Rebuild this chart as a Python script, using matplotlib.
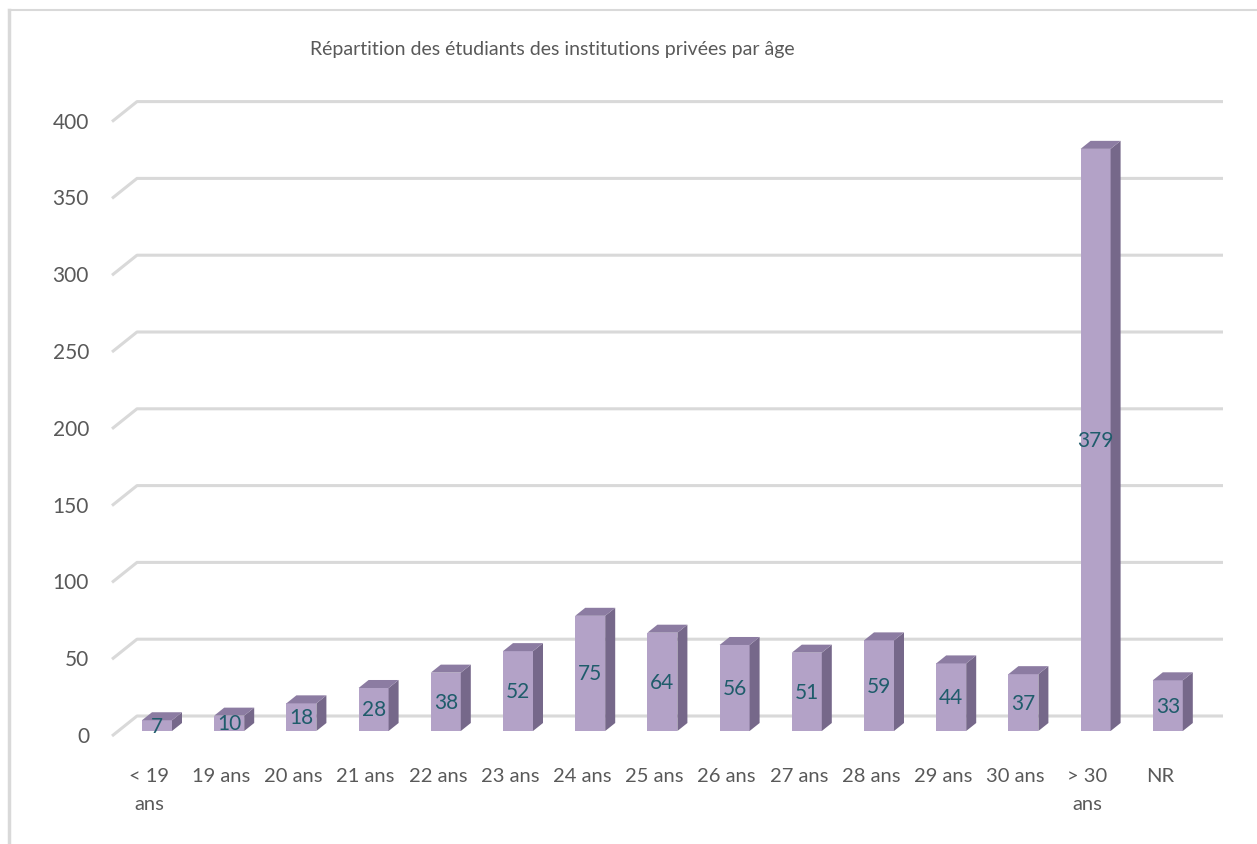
import matplotlib.pyplot as plt
from matplotlib.patches import Polygon, Rectangle
from matplotlib.lines import Line2D

CATEGORIES = ["< 19\nans", "19 ans", "20 ans", "21 ans", "22 ans", "23 ans", "24 ans",
              "25 ans", "26 ans", "27 ans", "28 ans", "29 ans", "30 ans", "> 30\nans", "NR"]
VALUES = [7, 10, 18, 28, 38, 52, 75, 64, 56, 51, 59, 44, 37, 379, 33]
Y_TICKS = [0, 50, 100, 150, 200, 250, 300, 350, 400]
TITLE = "Répartition des étudiants des institutions privées par âge"

FRONT = "#b3a2c7"
SIDE = "#76688a"
TOP = "#8c7ca2"
GRID = "#d9d9d9"
TEXT = "#595959"
LABEL = "#1f5c6b"

# pixel geometry of the 3d look (category step and value scale)
PX_STEP = 72.2
PX_UNIT = 1.536
X0_PX = 157
Y0_PX = 732
W, H = 1257, 845

plt.rcParams["font.family"] = ["Lato", "DejaVu Sans"]

fig = plt.figure(figsize=(W / 100, H / 100), dpi=100)
ax = fig.add_axes([0, 0, 1, 1])
ax.set_xlim(-X0_PX / PX_STEP, (W - X0_PX) / PX_STEP)
ax.set_ylim((Y0_PX - H) / PX_UNIT, Y0_PX / PX_UNIT)
ax.axis("off")

bar_w = 30 / PX_STEP
dx = 10 / PX_STEP
dy = 8 / PX_UNIT
# floor depth: front edge -> back wall
fdx_front, fdy_front = -45 / PX_STEP, -5 / PX_UNIT
fdx_back, fdy_back = -20 / PX_STEP, 15 / PX_UNIT
right_end = (1223 - X0_PX) / PX_STEP

# gridlines on the back wall with slanted floor/side edge
for v in Y_TICKS:
    ax.add_line(Line2D([fdx_front, fdx_back, right_end],
                       [v + fdy_front, v + fdy_back, v + fdy_back],
                       color=GRID, lw=2.2, solid_capstyle="butt", zorder=1))
    ax.text(-68 / PX_STEP, v + fdy_front, str(v), ha="right", va="center",
            fontsize=15, color=TEXT)

label_shift = -8 / PX_STEP
for i, v in enumerate(VALUES):
    x0 = i - bar_w / 2
    x1 = i + bar_w / 2
    ax.add_patch(Rectangle((x0, 0), bar_w, v, facecolor=FRONT, edgecolor="none", zorder=3))
    ax.add_patch(Polygon([(x1, 0), (x1 + dx, dy), (x1 + dx, v + dy), (x1, v)],
                         closed=True, facecolor=SIDE, edgecolor="none", zorder=3))
    ax.add_patch(Polygon([(x0, v), (x1, v), (x1 + dx, v + dy), (x0 + dx, v + dy)],
                         closed=True, facecolor=TOP, edgecolor="none", zorder=3))
    ax.text(i, v / 2, str(v), ha="center", va="center", fontsize=15, color=LABEL, zorder=4)
    ax.text(i + label_shift, (Y0_PX - 768) / PX_UNIT, CATEGORIES[i], ha="center", va="top",
            fontsize=14.5, color=TEXT, linespacing=1.8)

fig.text(552 / W, 1 - 50 / H, TITLE, ha="center", va="center", fontsize=14, color=TEXT)

# outer chart border (only top and left edges visible)
fig.add_artist(Line2D([9 / W, 9 / W], [0, 1 - 11 / H], color=GRID, lw=2.5))
fig.add_artist(Line2D([9 / W, 1], [1 - 11 / H, 1 - 11 / H], color=GRID, lw=1.5))

fig.savefig("out.png", dpi=100)
